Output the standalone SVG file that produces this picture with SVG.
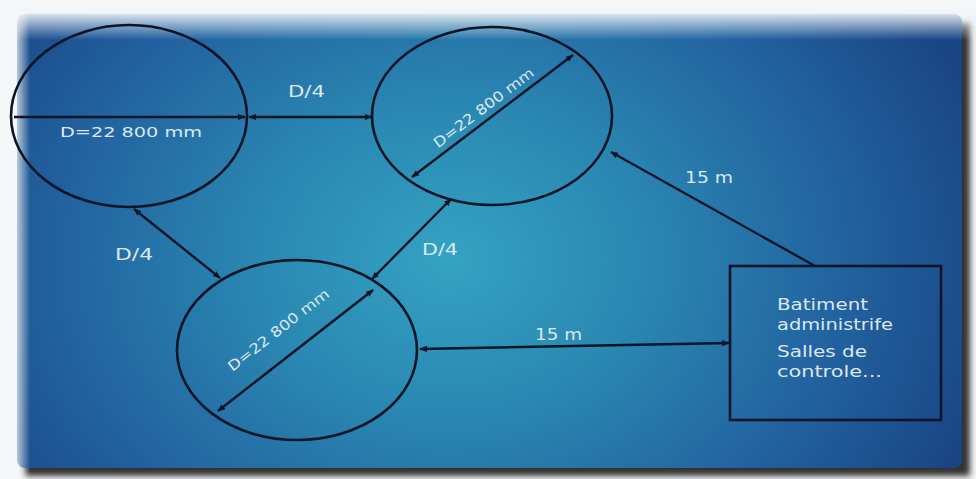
<svg xmlns="http://www.w3.org/2000/svg" width="976" height="479" viewBox="0 0 976 479">
  <defs>
    <radialGradient id="bg" gradientUnits="userSpaceOnUse" cx="450" cy="260" r="560" gradientTransform="translate(450 260) scale(1 0.8) translate(-450 -260)">
      <stop offset="0" stop-color="#34a3c2"/>
      <stop offset="0.35" stop-color="#2a87b1"/>
      <stop offset="0.7" stop-color="#2262a0"/>
      <stop offset="1" stop-color="#1a4585"/>
    </radialGradient>
    <linearGradient id="topfade" x1="0" y1="0" x2="0" y2="1">
      <stop offset="0" stop-color="#f6f7f9" stop-opacity="1"/>
      <stop offset="0.3" stop-color="#f2f5f8" stop-opacity="0.95"/>
      <stop offset="1" stop-color="#e8f0f6" stop-opacity="0"/>
    </linearGradient>
    <linearGradient id="leftfade" x1="0" y1="0" x2="1" y2="0">
      <stop offset="0" stop-color="#f6f7f9" stop-opacity="1"/>
      <stop offset="0.45" stop-color="#f6f7f9" stop-opacity="0.9"/>
      <stop offset="1" stop-color="#f6f7f9" stop-opacity="0"/>
    </linearGradient>
    <filter id="blur" x="-5%" y="-5%" width="110%" height="110%">
      <feGaussianBlur stdDeviation="3"/>
    </filter>
    <marker id="ah" viewBox="0 0 10 10" refX="9" refY="5" markerWidth="3.2" markerHeight="3.2" orient="auto-start-reverse" markerUnits="strokeWidth">
      <path d="M0,1 L10,5 L0,9 Z" fill="#0b1526"/>
    </marker>
    <style>
      .shape { fill: none; stroke: #0b1526; stroke-width: 2.6; }
      .conn { fill: none; stroke: #0b1526; stroke-width: 2.4; }
      .lbl { fill: #dbe8f2; font-family: "DejaVu Sans", "Liberation Sans", sans-serif; }
    </style>
  </defs>

  <rect x="0" y="0" width="976" height="479" fill="#f6f7f9"/>
  <rect x="24" y="22" width="946" height="454" fill="#303030" filter="url(#blur)"/>
  <rect x="17" y="14" width="945" height="454" rx="8" fill="url(#bg)"/>
  <rect x="0" y="0" width="976" height="40" fill="url(#topfade)"/>
  <rect x="0" y="0" width="30" height="479" fill="url(#leftfade)"/>

  <g id="circle-1">
    <ellipse class="shape" cx="129" cy="116" rx="118" ry="91"/>
    <text class="lbl" x="131" y="137" font-size="14" text-anchor="middle" textLength="142" lengthAdjust="spacingAndGlyphs">D=22 800 mm</text>
  </g>

  <g id="circle-2">
    <ellipse class="shape" cx="492" cy="116" rx="120" ry="89"/>
    <text class="lbl" font-size="14" text-anchor="middle" textLength="122" lengthAdjust="spacingAndGlyphs" transform="translate(412 177) rotate(-37.2)" x="99" y="-7">D=22 800 mm</text>
  </g>

  <g id="circle-3">
    <ellipse class="shape" cx="297" cy="350" rx="120" ry="90"/>
    <text class="lbl" font-size="14" text-anchor="middle" textLength="124" lengthAdjust="spacingAndGlyphs" transform="translate(217 412) rotate(-38)" x="99" y="-22">D=22 800 mm</text>
  </g>

  <g id="batiment">
    <rect class="shape" x="730" y="266" width="211" height="154"/>
    <text class="lbl" font-size="15" x="777" y="310" textLength="91" lengthAdjust="spacingAndGlyphs">Batiment</text>
    <text class="lbl" font-size="15" x="777" y="330" textLength="116" lengthAdjust="spacingAndGlyphs">administrife</text>
    <text class="lbl" font-size="15" x="777" y="357" textLength="90" lengthAdjust="spacingAndGlyphs">Salles de</text>
    <text class="lbl" font-size="15" x="777" y="377" textLength="105" lengthAdjust="spacingAndGlyphs">controle...</text>
  </g>

  <g id="connectors">
    <line class="conn" x1="14" y1="117" x2="245" y2="117" marker-end="url(#ah)"/>
    <line class="conn" x1="249" y1="117" x2="372" y2="117" marker-start="url(#ah)" marker-end="url(#ah)"/>
    <line class="conn" x1="412" y1="177" x2="573" y2="55" marker-start="url(#ah)" marker-end="url(#ah)"/>
    <line class="conn" x1="134" y1="209" x2="220" y2="278" marker-start="url(#ah)" marker-end="url(#ah)"/>
    <line class="conn" x1="372" y1="279" x2="451" y2="199" marker-start="url(#ah)" marker-end="url(#ah)"/>
    <line class="conn" x1="218" y1="411" x2="373" y2="290" marker-start="url(#ah)" marker-end="url(#ah)"/>
    <line class="conn" x1="420" y1="349" x2="729" y2="343" marker-start="url(#ah)" marker-end="url(#ah)"/>
    <line class="conn" x1="815" y1="266" x2="611" y2="152" marker-end="url(#ah)"/>
    <text class="lbl" font-size="16" x="288" y="97" textLength="37" lengthAdjust="spacingAndGlyphs">D/4</text>
    <text class="lbl" font-size="16" x="115" y="260" textLength="38" lengthAdjust="spacingAndGlyphs">D/4</text>
    <text class="lbl" font-size="16" x="422" y="255" textLength="36" lengthAdjust="spacingAndGlyphs">D/4</text>
    <text class="lbl" font-size="15" x="685" y="183" textLength="48" lengthAdjust="spacingAndGlyphs">15 m</text>
    <text class="lbl" font-size="15" x="535" y="340" textLength="47" lengthAdjust="spacingAndGlyphs">15 m</text>
  </g>
</svg>
